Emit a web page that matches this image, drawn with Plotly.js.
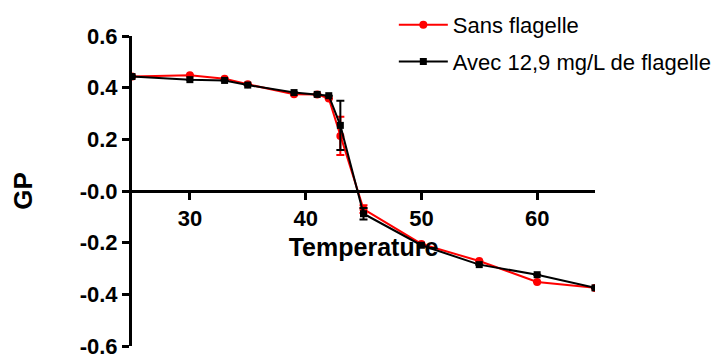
<!DOCTYPE html>
<html>
<head>
<meta charset="utf-8">
<script src="https://cdn.plot.ly/plotly-3.0.1.min.js"></script>
<style>html,body{margin:0;padding:0;background:#fff;}#chart{width:718px;height:354px;}</style>
</head>
<body>
<div id="chart"></div>
<script>
// Data
var temperatures = [25, 30, 33, 35, 39, 41, 42, 43, 45, 50, 55, 60, 65];
var gpSans = [0.443, 0.448, 0.435, 0.413, 0.375, 0.374, 0.358, 0.213, -0.070, -0.205, -0.271, -0.352, -0.375];
var gpSansErr = [0, 0, 0, 0, 0, 0, 0, 0.074, 0.015, 0, 0, 0, 0];
var gpAvec = [0.443, 0.431, 0.428, 0.410, 0.381, 0.374, 0.369, 0.254, -0.088, -0.210, -0.285, -0.324, -0.375];
var gpAvecErr = [0, 0, 0, 0, 0, 0, 0, 0.095, 0.022, 0, 0, 0, 0];
var seriesNames = ['Sans flagelle', 'Avec 12,9 mg/L de flagelle'];
var yTickVals = [-0.6, -0.4, -0.2, 0, 0.2, 0.4, 0.6];
var yTickText = ['-0.6', '-0.4', '-0.2', '-0.0', '0.2', '0.4', '0.6'];
var xTickVals = [30, 40, 50, 60];

var FONT = 'Arial, "Liberation Sans", sans-serif';

var traces = [
  {
    x: temperatures, y: gpSans, name: seriesNames[0], type: 'scatter', mode: 'lines+markers',
    legendgroup: 'a',
    line: {color: '#ff0000', width: 2},
    marker: {color: '#ff0000', symbol: 'circle', size: 8},
    error_y: {type: 'data', array: gpSansErr, visible: true, color: '#ff0000', thickness: 2, width: 4}
  },
  {
    x: temperatures, y: gpAvec, name: seriesNames[1], type: 'scatter', mode: 'lines+markers',
    legendgroup: 'b',
    line: {color: '#000000', width: 2},
    marker: {color: '#000000', symbol: 'square', size: 7},
    error_y: {type: 'data', array: gpAvecErr, visible: true, color: '#000000', thickness: 2, width: 4}
  }
];

var layout = {
  width: 718, height: 354,
  margin: {l: 132, r: 123, t: 36, b: 8, pad: 0, autoexpand: false},
  paper_bgcolor: '#ffffff', plot_bgcolor: '#ffffff',
  font: {family: FONT, color: '#000000'},
  showlegend: true,
  legend: {
    x: 0.5655, y: 1.103, xanchor: 'left', yanchor: 'top',
    font: {family: FONT, size: 22, color: '#000000'},
    traceorder: 'grouped', tracegroupgap: 5, itemwidth: 49,
    bgcolor: 'rgba(0,0,0,0)', borderwidth: 0
  },
  xaxis: {
    range: [25, 65], anchor: 'free', position: 0.5,
    showline: true, linecolor: '#000000', linewidth: 3,
    showgrid: false, zeroline: false,
    tickmode: 'array', tickvals: xTickVals,
    ticks: 'outside', ticklen: 7, tickwidth: 3, tickcolor: '#000000',
    tickfont: {family: FONT, size: 22, color: '#000000', weight: 'bold'},
    title: {text: '<b>Temperature</b>', font: {family: FONT, size: 25, color: '#000000'}, standoff: 8}
  },
  yaxis: {
    range: [-0.6, 0.6],
    showline: true, linecolor: '#000000', linewidth: 3,
    showgrid: false, zeroline: false,
    tickmode: 'array', tickvals: yTickVals, ticktext: yTickText,
    ticks: 'outside', ticklen: 7, tickwidth: 3, tickcolor: '#000000',
    ticklabeloverflow: 'allow',
    tickfont: {family: FONT, size: 22, color: '#000000', weight: 'bold'},
    title: {text: '<b>GP</b>', font: {family: FONT, size: 26, color: '#000000'}, standoff: 40}
  }
};

Plotly.newPlot('chart', traces, layout, {displayModeBar: false, staticPlot: true});
</script>
</body>
</html>
